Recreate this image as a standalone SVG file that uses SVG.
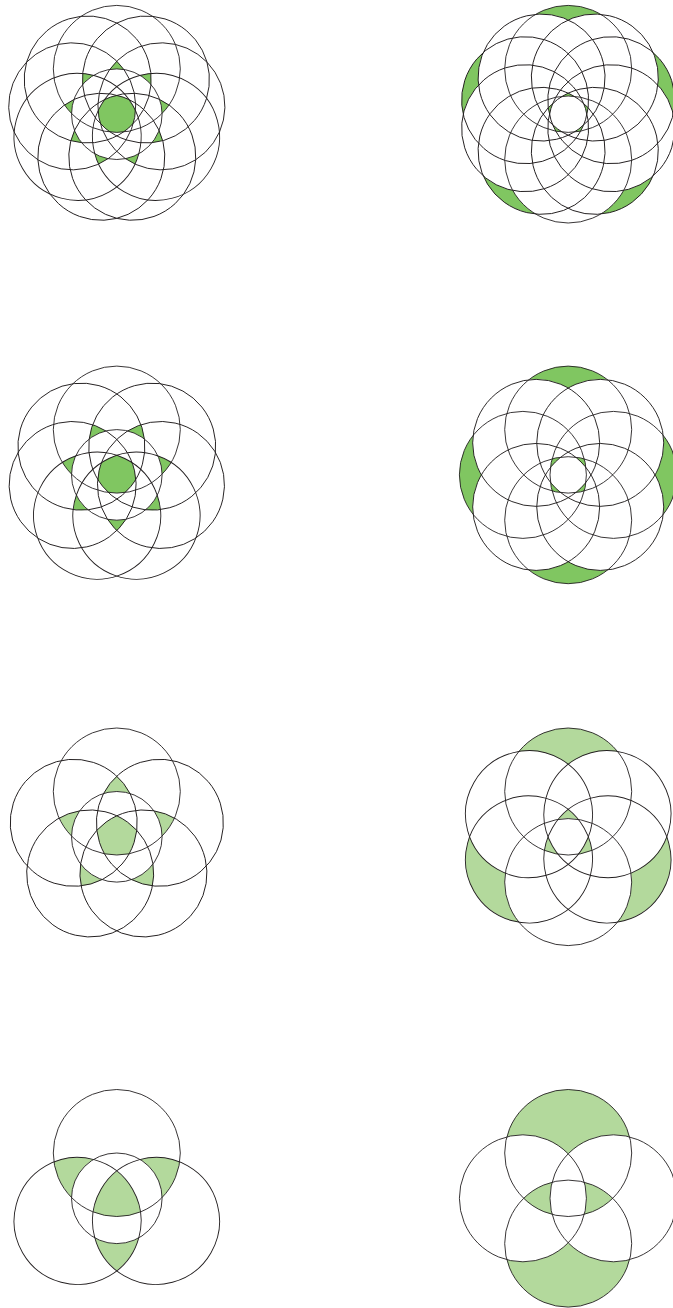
<svg xmlns="http://www.w3.org/2000/svg" width="673" height="1308" viewBox="0 0 673 1308">
<style>
.ln{fill:none;stroke:#231f20;stroke-width:0.9}
.dk{fill:#80c661}
.lt{fill:#b3d99c}
</style>
<defs>
<circle id="c1" cx="116.8" cy="68.9" r="63.5"/>
<circle id="c2" cx="568.2" cy="68.9" r="63.5"/>
<circle id="c3" cx="116.8" cy="429.6" r="63.5"/>
<circle id="c4" cx="568.2" cy="429.6" r="63.5"/>
<circle id="c5" cx="116.8" cy="791.5" r="63.5"/>
<circle id="c6" cx="568.2" cy="791.5" r="63.5"/>
<circle id="c7" cx="116.8" cy="1153" r="63.5"/>
<circle id="c8" cx="568.2" cy="1153" r="63.5"/>
<path id="n1" fill-rule="evenodd" d="M-103.2,-105.8H336.8V334.2H-103.2Z M53.3,68.9a63.5,63.5 0 1,0 127,0a63.5,63.5 0 1,0 -127,0Z"/>
<path id="n2" fill-rule="evenodd" d="M348.2,-105.8H788.2V334.2H348.2Z M504.7,68.9a63.5,63.5 0 1,0 127,0a63.5,63.5 0 1,0 -127,0Z"/>
<path id="n3" fill-rule="evenodd" d="M-103.2,254.9H336.8V694.9H-103.2Z M53.3,429.6a63.5,63.5 0 1,0 127,0a63.5,63.5 0 1,0 -127,0Z"/>
<path id="n4" fill-rule="evenodd" d="M348.2,254.9H788.2V694.9H348.2Z M504.7,429.6a63.5,63.5 0 1,0 127,0a63.5,63.5 0 1,0 -127,0Z"/>
<path id="n5" fill-rule="evenodd" d="M-103.2,616.8H336.8V1056.8H-103.2Z M53.3,791.5a63.5,63.5 0 1,0 127,0a63.5,63.5 0 1,0 -127,0Z"/>
<path id="n6" fill-rule="evenodd" d="M348.2,616.8H788.2V1056.8H348.2Z M504.7,791.5a63.5,63.5 0 1,0 127,0a63.5,63.5 0 1,0 -127,0Z"/>
<path id="n7" fill-rule="evenodd" d="M-103.2,978.3H336.8V1418.3H-103.2Z M53.3,1153a63.5,63.5 0 1,0 127,0a63.5,63.5 0 1,0 -127,0Z"/>
<path id="n8" fill-rule="evenodd" d="M348.2,978.3H788.2V1418.3H348.2Z M504.7,1153a63.5,63.5 0 1,0 127,0a63.5,63.5 0 1,0 -127,0Z"/>

<!-- Figure 1 masks (n=9) -->
<mask id="m1c" maskUnits="userSpaceOnUse" x="-8.2" y="-10.8" width="250" height="250">
<rect x="-8.2" y="-10.8" width="250" height="250" fill="#fff"/>
<g fill="#000">
<use href="#n1"/>
<use href="#n1" transform="rotate(40 116.8 114.2)"/>
<use href="#n1" transform="rotate(80 116.8 114.2)"/>
<use href="#n1" transform="rotate(120 116.8 114.2)"/>
<use href="#n1" transform="rotate(160 116.8 114.2)"/>
<use href="#n1" transform="rotate(200 116.8 114.2)"/>
<use href="#n1" transform="rotate(240 116.8 114.2)"/>
<use href="#n1" transform="rotate(280 116.8 114.2)"/>
<use href="#n1" transform="rotate(320 116.8 114.2)"/>
</g>
</mask>
<mask id="m1t" maskUnits="userSpaceOnUse" x="-8.2" y="-10.8" width="250" height="250">
<rect x="-8.2" y="-10.8" width="250" height="250" fill="#fff"/>
<g fill="#000">
<use href="#n1"/>
<use href="#n1" transform="rotate(40 116.8 114.2)"/>
<use href="#n1" transform="rotate(-40 116.8 114.2)"/>
<use href="#n1" transform="rotate(80 116.8 114.2)"/>
<use href="#n1" transform="rotate(-80 116.8 114.2)"/>
<use href="#c1" transform="rotate(120 116.8 114.2)"/>
<use href="#c1" transform="rotate(-120 116.8 114.2)"/>
<use href="#c1" transform="rotate(160 116.8 114.2)"/>
<use href="#c1" transform="rotate(-160 116.8 114.2)"/>
<circle cx="116.8" cy="114.2" r="45.3"/>
</g>
</mask>

<!-- Figure 2 masks (n=10) -->
<mask id="m2o" maskUnits="userSpaceOnUse" x="443.2" y="-10.8" width="250" height="250">
<rect x="443.2" y="-10.8" width="250" height="250" fill="#fff"/>
<g fill="#000">
<use href="#n2"/>
<use href="#c2" transform="rotate(36 568.2 114.2)"/>
<use href="#c2" transform="rotate(72 568.2 114.2)"/>
<use href="#c2" transform="rotate(108 568.2 114.2)"/>
<use href="#c2" transform="rotate(144 568.2 114.2)"/>
<use href="#c2" transform="rotate(180 568.2 114.2)"/>
<use href="#c2" transform="rotate(216 568.2 114.2)"/>
<use href="#c2" transform="rotate(252 568.2 114.2)"/>
<use href="#c2" transform="rotate(288 568.2 114.2)"/>
<use href="#c2" transform="rotate(324 568.2 114.2)"/>
</g>
</mask>
<mask id="m2i" maskUnits="userSpaceOnUse" x="443.2" y="-10.8" width="250" height="250">
<rect x="443.2" y="-10.8" width="250" height="250" fill="#fff"/>
<g fill="#000">
<use href="#n2"/>
<use href="#c2" transform="rotate(36 568.2 114.2)"/>
<use href="#n2" transform="rotate(72 568.2 114.2)"/>
<use href="#n2" transform="rotate(108 568.2 114.2)"/>
<use href="#n2" transform="rotate(144 568.2 114.2)"/>
<use href="#n2" transform="rotate(180 568.2 114.2)"/>
<use href="#n2" transform="rotate(216 568.2 114.2)"/>
<use href="#n2" transform="rotate(252 568.2 114.2)"/>
<use href="#n2" transform="rotate(288 568.2 114.2)"/>
<use href="#n2" transform="rotate(324 568.2 114.2)"/>
</g>
</mask>

<!-- Figure 3 masks (n=7) -->
<mask id="m3c" maskUnits="userSpaceOnUse" x="-8.2" y="349.9" width="250" height="250">
<rect x="-8.2" y="349.9" width="250" height="250" fill="#fff"/>
<g fill="#000">
<use href="#n3"/>
<use href="#n3" transform="rotate(51.4286 116.8 474.9)"/>
<use href="#n3" transform="rotate(102.8571 116.8 474.9)"/>
<use href="#n3" transform="rotate(154.2857 116.8 474.9)"/>
<use href="#n3" transform="rotate(205.7143 116.8 474.9)"/>
<use href="#n3" transform="rotate(257.1429 116.8 474.9)"/>
<use href="#n3" transform="rotate(308.5714 116.8 474.9)"/>
</g>
</mask>
<mask id="m3t" maskUnits="userSpaceOnUse" x="-8.2" y="349.9" width="250" height="250">
<rect x="-8.2" y="349.9" width="250" height="250" fill="#fff"/>
<g fill="#000">
<use href="#c3"/>
<use href="#c3" transform="rotate(51.4286 116.8 474.9)"/>
<use href="#n3" transform="rotate(102.8571 116.8 474.9)"/>
<use href="#n3" transform="rotate(154.2857 116.8 474.9)"/>
<use href="#n3" transform="rotate(205.7143 116.8 474.9)"/>
<use href="#n3" transform="rotate(257.1429 116.8 474.9)"/>
<use href="#c3" transform="rotate(308.5714 116.8 474.9)"/>
<circle cx="116.8" cy="474.9" r="45.3"/>
</g>
</mask>

<!-- Figure 4 masks (n=8) -->
<mask id="m4o" maskUnits="userSpaceOnUse" x="443.2" y="349.9" width="250" height="250">
<rect x="443.2" y="349.9" width="250" height="250" fill="#fff"/>
<g fill="#000">
<use href="#n4"/>
<use href="#c4" transform="rotate(45 568.2 474.9)"/>
<use href="#c4" transform="rotate(90 568.2 474.9)"/>
<use href="#c4" transform="rotate(135 568.2 474.9)"/>
<use href="#c4" transform="rotate(180 568.2 474.9)"/>
<use href="#c4" transform="rotate(225 568.2 474.9)"/>
<use href="#c4" transform="rotate(270 568.2 474.9)"/>
<use href="#c4" transform="rotate(315 568.2 474.9)"/>
</g>
</mask>
<mask id="m4i" maskUnits="userSpaceOnUse" x="443.2" y="349.9" width="250" height="250">
<rect x="443.2" y="349.9" width="250" height="250" fill="#fff"/>
<g fill="#000">
<use href="#n4"/>
<use href="#c4" transform="rotate(45 568.2 474.9)"/>
<use href="#n4" transform="rotate(90 568.2 474.9)"/>
<use href="#n4" transform="rotate(135 568.2 474.9)"/>
<use href="#n4" transform="rotate(180 568.2 474.9)"/>
<use href="#n4" transform="rotate(225 568.2 474.9)"/>
<use href="#n4" transform="rotate(270 568.2 474.9)"/>
<use href="#n4" transform="rotate(315 568.2 474.9)"/>
</g>
</mask>

<!-- Figure 5 masks (n=5) -->
<mask id="m5c" maskUnits="userSpaceOnUse" x="-8.2" y="711.8" width="250" height="250">
<rect x="-8.2" y="711.8" width="250" height="250" fill="#fff"/>
<g fill="#000">
<use href="#n5"/>
<use href="#n5" transform="rotate(72 116.8 836.8)"/>
<use href="#n5" transform="rotate(144 116.8 836.8)"/>
<use href="#n5" transform="rotate(216 116.8 836.8)"/>
<use href="#n5" transform="rotate(288 116.8 836.8)"/>
</g>
</mask>
<mask id="m5t" maskUnits="userSpaceOnUse" x="-8.2" y="711.8" width="250" height="250">
<rect x="-8.2" y="711.8" width="250" height="250" fill="#fff"/>
<g fill="#000">
<use href="#n5"/>
<use href="#n5" transform="rotate(72 116.8 836.8)"/>
<use href="#c5" transform="rotate(144 116.8 836.8)"/>
<use href="#c5" transform="rotate(216 116.8 836.8)"/>
<use href="#n5" transform="rotate(288 116.8 836.8)"/>
<circle cx="116.8" cy="836.8" r="45.3"/>
</g>
</mask>

<!-- Figure 6 masks (n=6) -->
<mask id="m6o" maskUnits="userSpaceOnUse" x="443.2" y="711.8" width="250" height="250">
<rect x="443.2" y="711.8" width="250" height="250" fill="#fff"/>
<g fill="#000">
<use href="#n6"/>
<use href="#c6" transform="rotate(60 568.2 836.8)"/>
<use href="#c6" transform="rotate(120 568.2 836.8)"/>
<use href="#c6" transform="rotate(180 568.2 836.8)"/>
<use href="#c6" transform="rotate(240 568.2 836.8)"/>
<use href="#c6" transform="rotate(300 568.2 836.8)"/>
</g>
</mask>
<mask id="m6i" maskUnits="userSpaceOnUse" x="443.2" y="711.8" width="250" height="250">
<rect x="443.2" y="711.8" width="250" height="250" fill="#fff"/>
<g fill="#000">
<use href="#n6"/>
<use href="#c6" transform="rotate(60 568.2 836.8)"/>
<use href="#n6" transform="rotate(120 568.2 836.8)"/>
<use href="#n6" transform="rotate(180 568.2 836.8)"/>
<use href="#n6" transform="rotate(240 568.2 836.8)"/>
<use href="#n6" transform="rotate(300 568.2 836.8)"/>
</g>
</mask>

<!-- Figure 7 masks (n=3) -->
<mask id="m7c" maskUnits="userSpaceOnUse" x="-8.2" y="1073.3" width="250" height="250">
<rect x="-8.2" y="1073.3" width="250" height="250" fill="#fff"/>
<g fill="#000">
<use href="#n7"/>
<use href="#n7" transform="rotate(120 116.8 1198.3)"/>
<use href="#n7" transform="rotate(240 116.8 1198.3)"/>
</g>
</mask>
<mask id="m7t" maskUnits="userSpaceOnUse" x="-8.2" y="1073.3" width="250" height="250">
<rect x="-8.2" y="1073.3" width="250" height="250" fill="#fff"/>
<g fill="#000">
<use href="#c7"/>
<use href="#n7" transform="rotate(120 116.8 1198.3)"/>
<use href="#n7" transform="rotate(240 116.8 1198.3)"/>
<circle cx="116.8" cy="1198.3" r="45.3"/>
</g>
</mask>

<!-- Figure 8 masks (n=4) -->
<mask id="m8o" maskUnits="userSpaceOnUse" x="443.2" y="1073.3" width="250" height="250">
<rect x="443.2" y="1073.3" width="250" height="250" fill="#fff"/>
<g fill="#000">
<use href="#n8"/>
<use href="#c8" transform="rotate(90 568.2 1198.3)"/>
<use href="#c8" transform="rotate(180 568.2 1198.3)"/>
<use href="#c8" transform="rotate(270 568.2 1198.3)"/>
</g>
</mask>
<mask id="m8i" maskUnits="userSpaceOnUse" x="443.2" y="1073.3" width="250" height="250">
<rect x="443.2" y="1073.3" width="250" height="250" fill="#fff"/>
<g fill="#000">
<use href="#n8"/>
<use href="#c8" transform="rotate(90 568.2 1198.3)"/>
<use href="#n8" transform="rotate(180 568.2 1198.3)"/>
<use href="#n8" transform="rotate(270 568.2 1198.3)"/>
</g>
</mask>
</defs>

<rect x="0" y="0" width="673" height="1308" fill="#fff"/>

<!-- Figure 1: nine circles -->
<g id="fig1">
<rect class="dk" x="1.8" y="-0.8" width="230" height="230" mask="url(#m1c)"/>
<g id="t1"><rect class="dk" x="1.8" y="-0.8" width="230" height="230" mask="url(#m1t)"/></g>
<use href="#t1" transform="rotate(40 116.8 114.2)"/>
<use href="#t1" transform="rotate(80 116.8 114.2)"/>
<use href="#t1" transform="rotate(120 116.8 114.2)"/>
<use href="#t1" transform="rotate(160 116.8 114.2)"/>
<use href="#t1" transform="rotate(200 116.8 114.2)"/>
<use href="#t1" transform="rotate(240 116.8 114.2)"/>
<use href="#t1" transform="rotate(280 116.8 114.2)"/>
<use href="#t1" transform="rotate(320 116.8 114.2)"/>
<g class="ln">
<use href="#c1"/>
<use href="#c1" transform="rotate(40 116.8 114.2)"/>
<use href="#c1" transform="rotate(80 116.8 114.2)"/>
<use href="#c1" transform="rotate(120 116.8 114.2)"/>
<use href="#c1" transform="rotate(160 116.8 114.2)"/>
<use href="#c1" transform="rotate(200 116.8 114.2)"/>
<use href="#c1" transform="rotate(240 116.8 114.2)"/>
<use href="#c1" transform="rotate(280 116.8 114.2)"/>
<use href="#c1" transform="rotate(320 116.8 114.2)"/>
<circle cx="116.8" cy="114.2" r="45.3"/>
</g>
</g>

<!-- Figure 2: ten circles -->
<g id="fig2">
<g id="o2"><rect class="dk" x="453.2" y="-0.8" width="230" height="230" mask="url(#m2o)"/></g>
<use href="#o2" transform="rotate(72 568.2 114.2)"/>
<use href="#o2" transform="rotate(144 568.2 114.2)"/>
<use href="#o2" transform="rotate(216 568.2 114.2)"/>
<use href="#o2" transform="rotate(288 568.2 114.2)"/>
<g id="i2"><rect class="dk" x="453.2" y="-0.8" width="230" height="230" mask="url(#m2i)"/></g>
<use href="#i2" transform="rotate(72 568.2 114.2)"/>
<use href="#i2" transform="rotate(144 568.2 114.2)"/>
<use href="#i2" transform="rotate(216 568.2 114.2)"/>
<use href="#i2" transform="rotate(288 568.2 114.2)"/>
<g class="ln">
<use href="#c2"/>
<use href="#c2" transform="rotate(36 568.2 114.2)"/>
<use href="#c2" transform="rotate(72 568.2 114.2)"/>
<use href="#c2" transform="rotate(108 568.2 114.2)"/>
<use href="#c2" transform="rotate(144 568.2 114.2)"/>
<use href="#c2" transform="rotate(180 568.2 114.2)"/>
<use href="#c2" transform="rotate(216 568.2 114.2)"/>
<use href="#c2" transform="rotate(252 568.2 114.2)"/>
<use href="#c2" transform="rotate(288 568.2 114.2)"/>
<use href="#c2" transform="rotate(324 568.2 114.2)"/>
</g>
</g>

<!-- Figure 3: seven circles -->
<g id="fig3">
<rect class="dk" x="1.8" y="359.9" width="230" height="230" mask="url(#m3c)"/>
<g id="t3"><rect class="dk" x="1.8" y="359.9" width="230" height="230" mask="url(#m3t)"/></g>
<use href="#t3" transform="rotate(51.4286 116.8 474.9)"/>
<use href="#t3" transform="rotate(102.8571 116.8 474.9)"/>
<use href="#t3" transform="rotate(154.2857 116.8 474.9)"/>
<use href="#t3" transform="rotate(205.7143 116.8 474.9)"/>
<use href="#t3" transform="rotate(257.1429 116.8 474.9)"/>
<use href="#t3" transform="rotate(308.5714 116.8 474.9)"/>
<g class="ln">
<use href="#c3"/>
<use href="#c3" transform="rotate(51.4286 116.8 474.9)"/>
<use href="#c3" transform="rotate(102.8571 116.8 474.9)"/>
<use href="#c3" transform="rotate(154.2857 116.8 474.9)"/>
<use href="#c3" transform="rotate(205.7143 116.8 474.9)"/>
<use href="#c3" transform="rotate(257.1429 116.8 474.9)"/>
<use href="#c3" transform="rotate(308.5714 116.8 474.9)"/>
<circle cx="116.8" cy="474.9" r="45.3"/>
</g>
</g>

<!-- Figure 4: eight circles -->
<g id="fig4">
<g id="o4"><rect class="dk" x="453.2" y="359.9" width="230" height="230" mask="url(#m4o)"/></g>
<use href="#o4" transform="rotate(90 568.2 474.9)"/>
<use href="#o4" transform="rotate(180 568.2 474.9)"/>
<use href="#o4" transform="rotate(270 568.2 474.9)"/>
<g id="i4"><rect class="dk" x="453.2" y="359.9" width="230" height="230" mask="url(#m4i)"/></g>
<use href="#i4" transform="rotate(90 568.2 474.9)"/>
<use href="#i4" transform="rotate(180 568.2 474.9)"/>
<use href="#i4" transform="rotate(270 568.2 474.9)"/>
<g class="ln">
<use href="#c4"/>
<use href="#c4" transform="rotate(45 568.2 474.9)"/>
<use href="#c4" transform="rotate(90 568.2 474.9)"/>
<use href="#c4" transform="rotate(135 568.2 474.9)"/>
<use href="#c4" transform="rotate(180 568.2 474.9)"/>
<use href="#c4" transform="rotate(225 568.2 474.9)"/>
<use href="#c4" transform="rotate(270 568.2 474.9)"/>
<use href="#c4" transform="rotate(315 568.2 474.9)"/>
</g>
</g>

<!-- Figure 5: five circles -->
<g id="fig5">
<rect class="lt" x="1.8" y="721.8" width="230" height="230" mask="url(#m5c)"/>
<g id="t5"><rect class="lt" x="1.8" y="721.8" width="230" height="230" mask="url(#m5t)"/></g>
<use href="#t5" transform="rotate(72 116.8 836.8)"/>
<use href="#t5" transform="rotate(144 116.8 836.8)"/>
<use href="#t5" transform="rotate(216 116.8 836.8)"/>
<use href="#t5" transform="rotate(288 116.8 836.8)"/>
<g class="ln">
<use href="#c5"/>
<use href="#c5" transform="rotate(72 116.8 836.8)"/>
<use href="#c5" transform="rotate(144 116.8 836.8)"/>
<use href="#c5" transform="rotate(216 116.8 836.8)"/>
<use href="#c5" transform="rotate(288 116.8 836.8)"/>
<circle cx="116.8" cy="836.8" r="45.3"/>
</g>
</g>

<!-- Figure 6: six circles -->
<g id="fig6">
<g id="o6"><rect class="lt" x="453.2" y="721.8" width="230" height="230" mask="url(#m6o)"/></g>
<use href="#o6" transform="rotate(120 568.2 836.8)"/>
<use href="#o6" transform="rotate(240 568.2 836.8)"/>
<g id="i6"><rect class="lt" x="453.2" y="721.8" width="230" height="230" mask="url(#m6i)"/></g>
<use href="#i6" transform="rotate(120 568.2 836.8)"/>
<use href="#i6" transform="rotate(240 568.2 836.8)"/>
<g class="ln">
<use href="#c6"/>
<use href="#c6" transform="rotate(60 568.2 836.8)"/>
<use href="#c6" transform="rotate(120 568.2 836.8)"/>
<use href="#c6" transform="rotate(180 568.2 836.8)"/>
<use href="#c6" transform="rotate(240 568.2 836.8)"/>
<use href="#c6" transform="rotate(300 568.2 836.8)"/>
</g>
</g>

<!-- Figure 7: three circles plus inner circle -->
<g id="fig7">
<rect class="lt" x="1.8" y="1083.3" width="230" height="230" mask="url(#m7c)"/>
<g id="t7"><rect class="lt" x="1.8" y="1083.3" width="230" height="230" mask="url(#m7t)"/></g>
<use href="#t7" transform="rotate(120 116.8 1198.3)"/>
<use href="#t7" transform="rotate(240 116.8 1198.3)"/>
<g class="ln">
<use href="#c7"/>
<use href="#c7" transform="rotate(120 116.8 1198.3)"/>
<use href="#c7" transform="rotate(240 116.8 1198.3)"/>
<circle cx="116.8" cy="1198.3" r="45.3"/>
</g>
</g>

<!-- Figure 8: four circles -->
<g id="fig8">
<g id="o8"><rect class="lt" x="453.2" y="1083.3" width="230" height="230" mask="url(#m8o)"/></g>
<use href="#o8" transform="rotate(180 568.2 1198.3)"/>
<g id="i8"><rect class="lt" x="453.2" y="1083.3" width="230" height="230" mask="url(#m8i)"/></g>
<use href="#i8" transform="rotate(180 568.2 1198.3)"/>
<g class="ln">
<use href="#c8"/>
<use href="#c8" transform="rotate(90 568.2 1198.3)"/>
<use href="#c8" transform="rotate(180 568.2 1198.3)"/>
<use href="#c8" transform="rotate(270 568.2 1198.3)"/>
</g>
</g>
</svg>
